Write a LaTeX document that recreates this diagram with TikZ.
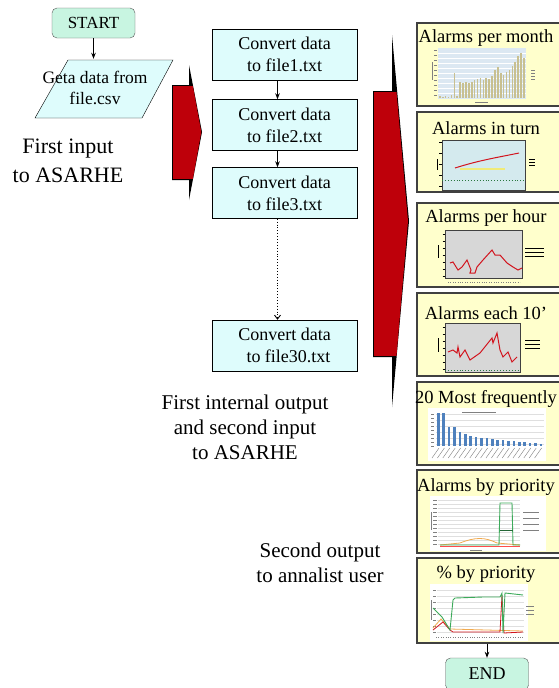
\documentclass[tikz,border=0pt]{standalone}
\usepackage{fontspec}
\setmainfont{Liberation Serif}
\usetikzlibrary{arrows.meta,calc}
\definecolor{mint}{RGB}{200,245,225}
\definecolor{cyanbox}{RGB}{222,252,252}
\definecolor{panelbg}{RGB}{255,255,204}
\definecolor{darkred}{RGB}{190,0,10}
\definecolor{panelline}{RGB}{64,64,64}
\definecolor{plotblue}{RGB}{220,232,242}
\definecolor{plotcyan}{RGB}{212,234,238}
\definecolor{barolive}{RGB}{200,192,145}
\definecolor{plotgrey}{RGB}{215,215,215}
\definecolor{barblue}{RGB}{79,129,189}
\definecolor{linered}{RGB}{210,20,30}
\definecolor{lineyellow}{RGB}{240,235,120}
\definecolor{linegreen}{RGB}{60,170,90}
\definecolor{lineorange}{RGB}{240,170,80}
\begin{document}
\begin{tikzpicture}[x=1pt,y=-1pt,
  term/.style={draw=gray!70!black, fill=mint, rounded corners=5pt, minimum width=83pt, minimum height=30pt, font=\fontsize{17}{20}\selectfont, inner sep=0pt},
  convbox/.style={draw=black, fill=cyanbox, minimum width=145pt, minimum height=51pt, align=center, font=\fontsize{18}{22}\selectfont, inner sep=0pt},
  note/.style={align=center, font=\fontsize{21}{25}\selectfont, inner sep=0pt},
  panel/.style={draw=panelline, line width=1.5pt, fill=panelbg, inner sep=0pt},
  ptitle/.style={font=\fontsize{18.5}{20}\selectfont, inner sep=0pt},
  flow/.style={-{Stealth[length=6pt,width=4.5pt]}, line width=0.8pt},
  tiny/.style={gray, line width=0.4pt}]
\useasboundingbox (0,0) rectangle (558,688);
\fill[white] (0,0) rectangle (558,688);

% ---------- left column ----------
\node[term] (start) at (93.5,23) {START};
\draw[black, fill=cyanbox] (35,118) -- (68,60) -- (173,60) -- (142,118) -- cycle;
\node[align=center, font=\fontsize{17.5}{21}\selectfont, minimum height=58pt, inner sep=0pt] (in) at (95,88) {Geta data from\\file.csv};
\draw[flow] (start.south) -- (start.south |- in.north);
\node[note, font=\fontsize{22}{29}\selectfont] (n1) at (68,161) {First input\\to ASARHE};

% ---------- first red arrow ----------
\fill[black] (172,85) -- (189,85) -- (189,65) -- (202,132) -- (189,200) -- (189,180) -- (172,180) -- cycle;
\fill[darkred] (173.2,86.2) -- (192.9,86.2) -- (201.3,132) -- (192.9,178.8) -- (173.2,178.8) -- cycle;

% ---------- convert boxes ----------
\node[convbox] (c1) at (284.5,54.5) {Convert data\\to file1.txt};
\node[convbox] (c2) at (284.5,125) {Convert data\\to file2.txt};
\node[convbox] (c3) at (284.5,193) {Convert data\\to file3.txt};
\node[convbox] (c30) at (284.5,345.5) {Convert data\\\hspace*{8pt}to file30.txt};
\draw[flow] ([xshift=-7pt]c1.south) -- ([xshift=-7pt]c2.north);
\draw[flow] ([xshift=-7pt]c2.south) -- ([xshift=-7pt]c3.north);
\draw[dotted, line width=0.9pt, -{Straight Barb[length=4pt,width=6pt]}] ([xshift=-7pt]c3.south) -- ([xshift=-7pt]c30.north);
\node[note] (n2) at (245,427) {First internal output\\and second input\\to ASARHE};
\node[note] (n3) at (320,562.5) {Second output\\to annalist user};

% ---------- second red arrow ----------
\fill[black] (373,91) -- (392,91) -- (392,35) -- (409,221) -- (392,407) -- (392,357) -- (373,357) -- cycle;
\fill[darkred] (374.2,92.2) -- (396.5,92.2) -- (408,221) -- (396.5,355.8) -- (374.2,355.8) -- cycle;

% ---------- panels ----------
\foreach \n/\t/\b/\ty/\ti in {p1/23/106/38/Alarms per month, p2/112/192/128/Alarms in turn, p3/203/287/218/Alarms per hour, p4/293/376/313/Alarms each 10', p5/382/465/399/20 Most frequently, p6/470/553/487/Alarms by priority, p7/558/643/574/\% by priority}{
  \node[panel, minimum width=146pt, minimum height={(\b-\t)*1pt}] (\n) at (490,{(\t+\b)/2}) {};
  \node[ptitle] (\n-t) at (486,\ty) {\ti};
}

% chart 1: bars per month
\fill[plotblue] (438,48) rectangle (526,99);
\foreach \yy in {53,58,...,93} \draw[white, line width=0.4pt] (438,\yy) -- (526,\yy);
\foreach \h [count=\i from 0] in {96,97,96,97,95,73,96,82,83,82,83,82,80,79,78,80,78,79,76,70,67,73,75,72,70,66,62,56,53,58}{
  \pgfmathsetmacro\xx{439+\i*2.9}
  \fill[barolive] (\xx,\h) rectangle (\xx+1.6,98);
}
\foreach \yy in {50,55,...,95} \draw[tiny] (434,\yy) -- (436.5,\yy);
\draw[tiny] (432,62) -- (432,80);
\draw[tiny] (475,102) -- (488,102);
\foreach \yy in {70,73,76,79} \draw[tiny] (531,\yy) -- (535,\yy);

% chart 2: alarms in turn
\draw[panelline, fill=plotcyan, line width=0.8pt] (442,140) rectangle (525,190);
\draw[lineyellow, line width=1.3pt] (460,169) -- (505,169);
\draw[linered, line width=1pt] (455,168) .. controls (480,160) and (500,157) .. (519,153);
\draw[linegreen!70!black, dotted, line width=0.9pt] (442,180) -- (525,180);
\foreach \yy in {142,153,164,175,186} \draw[black, line width=0.5pt] (439,\yy) -- (442,\yy);
\draw[black, line width=0.8pt] (437.5,159) -- (437.5,170);
\foreach \yy in {159,162,165} \draw[black, line width=0.8pt] (529,\yy) -- (535,\yy);

% chart 3: alarms per hour
\draw[panelline, fill=plotgrey, line width=0.8pt] (445,230) rectangle (522,278);
\draw[linered, line width=1pt] (450,263) -- (453,262) -- (458,270) -- (462,267) -- (467,260) -- (471,270) -- (470,273) -- (475,273) -- (477,267) -- (483,260) -- (492,250) -- (495,255) -- (500,255) -- (507,263) -- (513,267) -- (518,270) -- (522,268);
\foreach \yy in {234,241,248,255,262,269,276} \draw[black, line width=0.4pt] (442.5,\yy) -- (445,\yy);
\draw[black, line width=0.6pt] (438,245) -- (438,258);
\draw[tiny, dotted] (448,282) -- (520,282);
\foreach \yy in {248,252,256} \draw[black, line width=0.6pt] (525,\yy) -- (544,\yy);

% chart 4: alarms each 10'
\draw[panelline, fill=plotgrey, line width=0.8pt] (445,323) rectangle (520,372);
\draw[linered, line width=1pt] (448,352) -- (453,350) -- (457,353) -- (458,347) -- (460,357) -- (465,350) -- (470,360) -- (480,353) -- (492,338) -- (493,343) -- (497,333) -- (500,350) -- (503,357) -- (508,352) -- (512,362) -- (517,357);
\draw[linegreen!70!black, dotted, line width=0.9pt] (445,370) -- (520,370);
\foreach \yy in {327,334,341,348,355,362,369} \draw[black, line width=0.4pt] (442.5,\yy) -- (445,\yy);
\draw[black, line width=0.6pt] (438,338) -- (438,352);
\foreach \yy in {340,344,348} \draw[black, line width=0.6pt] (525,\yy) -- (540,\yy);

% chart 5: 20 most frequently
\fill[white] (428,408) rectangle (546,461);
\foreach \yy in {414,420,...,444} \draw[gray!25, line width=0.3pt] (436,\yy) -- (544,\yy);
\draw[tiny] (462,412) -- (496,412);
\foreach \h [count=\i from 0] in {413,413,427,427,432,434,436,437,438,438,439,440,440,441,441,442,442,443,443,444}{
  \pgfmathsetmacro\xx{437+\i*5.4}
  \fill[barblue] (\xx,\h) rectangle (\xx+2.6,446);
  \draw[tiny] (\xx+2,448) -- (\xx-5,458);
}
\foreach \yy in {414,418,...,446} \draw[tiny] (431,\yy) -- (434,\yy);

% chart 6: alarms by priority
\fill[white] (430,496) rectangle (546,551);
\foreach \yy in {500,504,...,544} \draw[gray!25, line width=0.3pt] (438,\yy) -- (520,\yy);
\foreach \yy in {500,504,...,544} \draw[tiny] (433,\yy) -- (436.5,\yy);
\draw[tiny] (431,512) -- (431,530);
\draw[lineorange, line width=0.8pt] (440,545) -- (460,543) .. controls (475,537) and (485,537) .. (497,543) -- (520,545);
\draw[red!70, line width=0.6pt] (440,546) -- (520,546);
\draw[linegreen, line width=0.9pt] (440,545) -- (499,545) -- (500,503) -- (512,503) -- (513,545) -- (520,545);
\draw[linegreen!60!black, line width=0.7pt] (500,530) -- (513,530);
\foreach \yy in {512,518,524,530} \draw[tiny] (523,\yy) -- (539,\yy);
\draw[tiny] (470,550) -- (482,550);

% chart 7: % by priority
\fill[white] (430,584) rectangle (528,641);
\foreach \yy in {590,596,...,632} \draw[gray!25, line width=0.3pt] (437,\yy) -- (524,\yy);
\foreach \yy in {590,596,...,632} \draw[tiny] (433,\yy) -- (436,\yy);
\draw[tiny] (431,600) -- (431,620);
\draw[lineorange, line width=0.8pt] (433,628) -- (441,619) -- (450,629) -- (523,631);
\draw[linered, line width=0.8pt] (433,630) -- (443,622) -- (450,630) -- (453,632) -- (500,632) -- (502,595) -- (504,633) -- (523,632);
\draw[linegreen, line width=0.9pt] (433,608) -- (442,617) -- (450,630) -- (453,600) -- (455,598) -- (483,597) -- (500,597) -- (502,593) -- (503,633) -- (505,593) -- (523,595);
\foreach \yy in {606,610,614} \draw[tiny] (526,\yy) -- (534,\yy);
\draw[tiny, dotted] (436,637) -- (524,637);

% ---------- end ----------
\node[term, minimum height=32pt, font=\fontsize{18}{20}\selectfont] (end) at (487,674) {END};
\draw[flow] (p7.south -| end) -- (end.north);
\end{tikzpicture}
\end{document}
